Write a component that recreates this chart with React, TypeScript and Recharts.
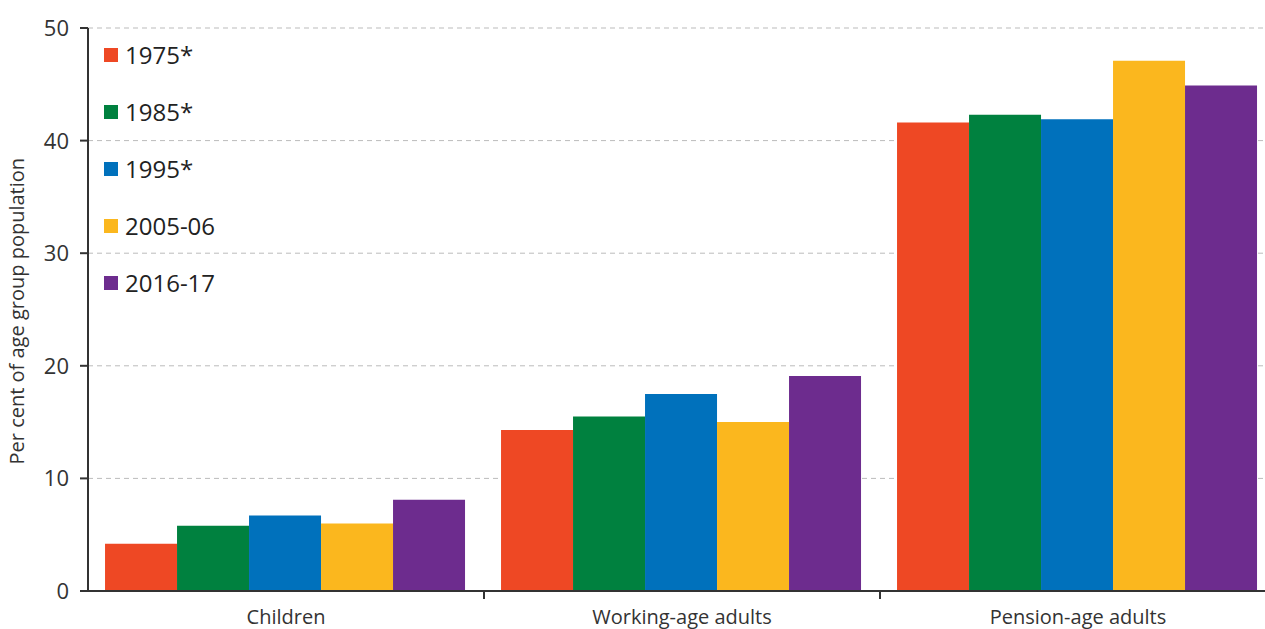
import * as React from "react";
import { BarChart, Bar, XAxis, YAxis, CartesianGrid, Legend } from "recharts";

const groups = ["Children", "Working-age adults", "Pension-age adults"];
const seriesNames = ["1975*", "1985*", "1995*", "2005-06", "2016-17"];
const seriesColors = ["#EE4824", "#00813F", "#0071BC", "#FBB71E", "#6D2C8E"];
const values1975 = [4.2, 14.3, 41.6];
const values1985 = [5.8, 15.5, 42.3];
const values1995 = [6.7, 17.5, 41.9];
const values2005 = [6.0, 15.0, 47.1];
const values2016 = [8.1, 19.1, 44.9];
const yTicks = [0, 10, 20, 30, 40, 50];

const seriesValues = [values1975, values1985, values1995, values2005, values2016];
const data = groups.map((g, i) => {
  const row: Record<string, any> = { group: g };
  seriesNames.forEach((s, j) => (row[s] = seriesValues[j][i]));
  return row;
});

const FONT = "'Open Sans', 'DejaVu Sans', sans-serif";

function GroupTick(props: any) {
  const { x, y, payload, index, width } = props;
  const band = width / groups.length;
  return (
    <g>
      {index > 0 && <line x1={x - band / 2} x2={x - band / 2} y1={y - 8} y2={y} stroke="#333" strokeWidth={2} />}
      <text x={x} y={y + 25} textAnchor="middle" style={{ fontSize: 20 }} fill="#333" fontFamily={FONT}>
        {payload.value}
      </text>
    </g>
  );
}

function ValueTick(props: any) {
  const { x, y, payload } = props;
  return (
    <text x={x - 9} y={y + 8} textAnchor="end" style={{ fontSize: 22 }} fill="#333" fontFamily={FONT}>
      {payload.value}
    </text>
  );
}

function KeyBox() {
  return (
    <div style={{ position: "absolute", left: 104, top: 26, fontFamily: FONT }}>
      {seriesNames.map((s, i) => (
        <div key={s} style={{ display: "flex", alignItems: "center", height: 57 }}>
          <span style={{ width: 14, height: 14, background: seriesColors[i], marginRight: 7 }} />
          <span style={{ fontSize: 24, color: "#222" }}>{s}</span>
        </div>
      ))}
    </div>
  );
}

export default function App() {
  return (
    <div style={{ position: "absolute", left: 0, top: 0, width: 1265, height: 629, overflow: "hidden", background: "#fff" }}>
      <BarChart
        width={1290}
        height={629}
        data={data}
        margin={{ top: 28, right: 14, left: 0, bottom: 0 }}
        barCategoryGap="4.3%"
        barGap={0}
      >
        <CartesianGrid vertical={false} stroke="#bbb" strokeDasharray="5 4" />
        <XAxis
          dataKey="group"
          tick={<GroupTick />}
          tickLine={false}
          axisLine={{ stroke: "#333", strokeWidth: 2 }}
          height={38}
          interval={0}
        />
        <YAxis
          domain={[0, 50]}
          ticks={yTicks}
          width={88}
          tickLine={{ stroke: "#333", strokeWidth: 2 }}
          tickSize={8}
          axisLine={{ stroke: "#333", strokeWidth: 2 }}
          tick={<ValueTick />}
          label={{
            value: "Per cent of age group population",
            angle: -90,
            position: "insideLeft",
            dx: 12,
            dy: 155,
            style: { fontSize: 20, fill: "#333", fontFamily: FONT },
          }}
        />
        <Legend content={<KeyBox />} wrapperStyle={{ position: "absolute", left: 0, top: 0 }} />
        {seriesNames.map((s, i) => (
          <Bar key={s} dataKey={s} fill={seriesColors[i]} isAnimationActive={false} />
        ))}
      </BarChart>
    </div>
  );
}
